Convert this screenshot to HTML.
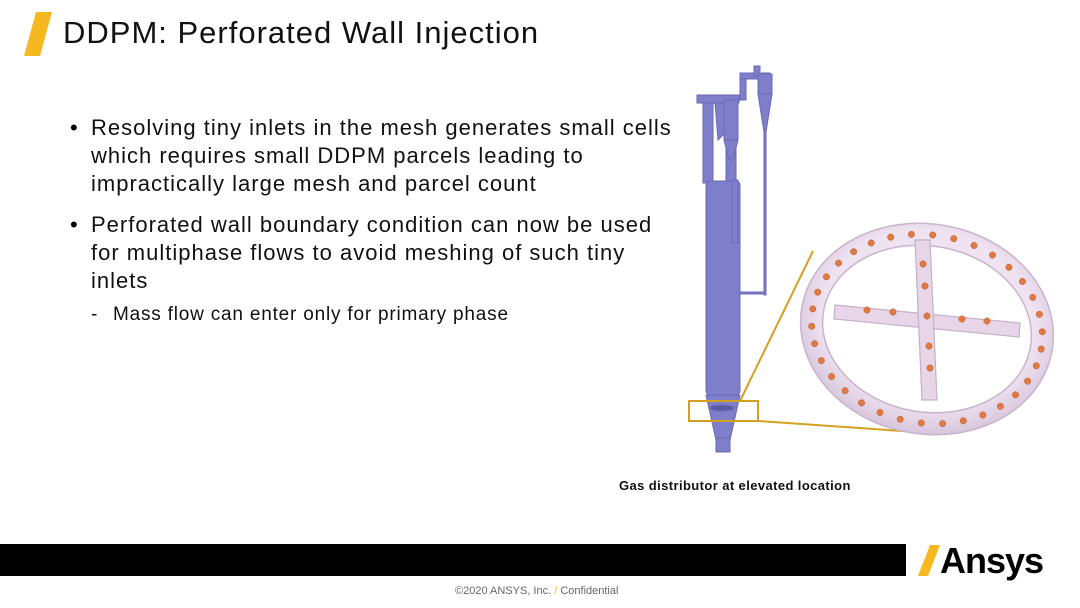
<!DOCTYPE html>
<html><head><meta charset="utf-8"><style>
body{margin:0;width:1080px;height:608px;background:#fff;position:relative;overflow:hidden;font-family:"Liberation Sans",sans-serif;}
.t{position:absolute;left:63px;top:15px;font-size:31px;letter-spacing:1px;color:#111;white-space:nowrap}
.b{position:absolute;left:91px;font-size:22px;letter-spacing:1px;color:#111;white-space:nowrap;line-height:28px}
.dot{position:absolute;left:70px;font-size:22px;line-height:28px}
</style></head><body>
<svg width="1080" height="608" style="position:absolute;left:0;top:0">
<defs>
<radialGradient id="rg" cx="50%" cy="45%" r="55%">
<stop offset="0.75" stop-color="#efe3f1"/><stop offset="1" stop-color="#d8c6dc"/>
</radialGradient>
</defs>
<polygon points="36,12 52,12 40,56 24,56" fill="#f5b820"/>
<rect x="0" y="544" width="906" height="32" fill="#000"/>
<polygon points="918,576 930,545 940,545 928,576" fill="#f5b820"/>
<g fill="#7e7ecb" stroke="#6a6ab5" stroke-width="1">
<rect x="703" y="103" width="10" height="80"/>
<rect x="726" y="100" width="10" height="83"/>
<rect x="697" y="95" width="42" height="8"/>
<polygon points="715,103 728,103 728,130 718,140"/>
<rect x="724" y="100" width="14" height="40"/>
<polygon points="724,140 738,140 733,160 729,160"/>
<rect x="740" y="77" width="6" height="23"/>
<rect x="740" y="73" width="30" height="6"/>
<rect x="754" y="66" width="6" height="10"/>
<rect x="758" y="74" width="14" height="20"/>
<polygon points="758,94 772,94 766,132 764,132"/>
<rect x="764" y="130" width="2" height="165"/>
<rect x="740" y="292" width="26" height="2"/>
<rect x="706" y="181" width="34" height="214" rx="4"/>
<rect x="732" y="180" width="6" height="63"/>
<polygon points="706,395 740,395 730,440 716,440"/>
<rect x="716" y="438" width="14" height="14"/>
<ellipse cx="722" cy="408" rx="12" ry="3" fill="#5a5aa5"/>
</g>
<g stroke="#d4a020" stroke-width="2" fill="none">
<rect x="689" y="401" width="69" height="20"/>
<line x1="740" y1="401" x2="813" y2="251"/>
<line x1="758" y1="421" x2="945" y2="434"/>
</g>
<g transform="rotate(10 927 329)">
<path fill-rule="evenodd" fill="url(#rg)" stroke="#c8b4cc" stroke-width="1.5" d="M800,329 a127,105 0 1,0 254,0 a127,105 0 1,0 -254,0 Z M822,329 a105,83 0 1,0 210,0 a105,83 0 1,0 -210,0 Z"/>
</g>
<g fill="#e6d6e8" stroke="#c4b0c8" stroke-width="1.2">
<polygon points="835,305 1020,323 1019,337 834,319"/>
<polygon points="915,240 930,240 937,400 922,400"/>
</g>
<g fill="#e07a40" stroke="#c05a30" stroke-width="0.5" id="dots"></g>
</svg>
<div class="t">DDPM: Perforated Wall Injection</div>
<div class="dot" style="top:114px">•</div>
<div class="b" style="top:114px">Resolving tiny inlets in the mesh generates small cells<br>which requires small DDPM parcels leading to<br>impractically large mesh and parcel count</div>
<div class="dot" style="top:211px">•</div>
<div class="b" style="top:211px">Perforated wall boundary condition can now be used<br>for multiphase flows to avoid meshing of such tiny<br>inlets</div>
<div style="position:absolute;left:91px;top:304px;font-size:19px;color:#111">-</div>
<div style="position:absolute;left:113px;top:304px;font-size:19px;letter-spacing:0.8px;color:#111;white-space:nowrap">Mass flow can enter only for primary phase</div>
<div style="position:absolute;left:619px;top:478px;font-size:13px;letter-spacing:0.4px;font-weight:bold;color:#111;white-space:nowrap">Gas distributor at elevated location</div>
<div style="position:absolute;left:940px;top:540px;font-size:36px;font-weight:bold;color:#000;letter-spacing:-1px">Ansys</div>
<div style="position:absolute;left:455px;top:585px;font-size:11px;color:#666;white-space:nowrap">©2020 ANSYS, Inc. <span style="color:#f5b820">/</span> Confidential</div>
<script>
var g=document.getElementById('dots'),s='';
var cx=927,cy=329,a=10*Math.PI/180;
for(var i=0;i<34;i++){var t=i/34*2*Math.PI;var x=116*Math.cos(t),y=94*Math.sin(t);
s+='<circle cx="'+(cx+x*Math.cos(a)-y*Math.sin(a)).toFixed(1)+'" cy="'+(cy+x*Math.sin(a)+y*Math.cos(a)).toFixed(1)+'" r="3.2"/>';}
[[867,310],[893,312],[927,316],[962,319],[987,321],[923,264],[925,286],[929,346],[930,368]].forEach(function(p){s+='<circle cx="'+p[0]+'" cy="'+p[1]+'" r="3.2"/>';});
g.innerHTML=s;
</script>
</body></html>
